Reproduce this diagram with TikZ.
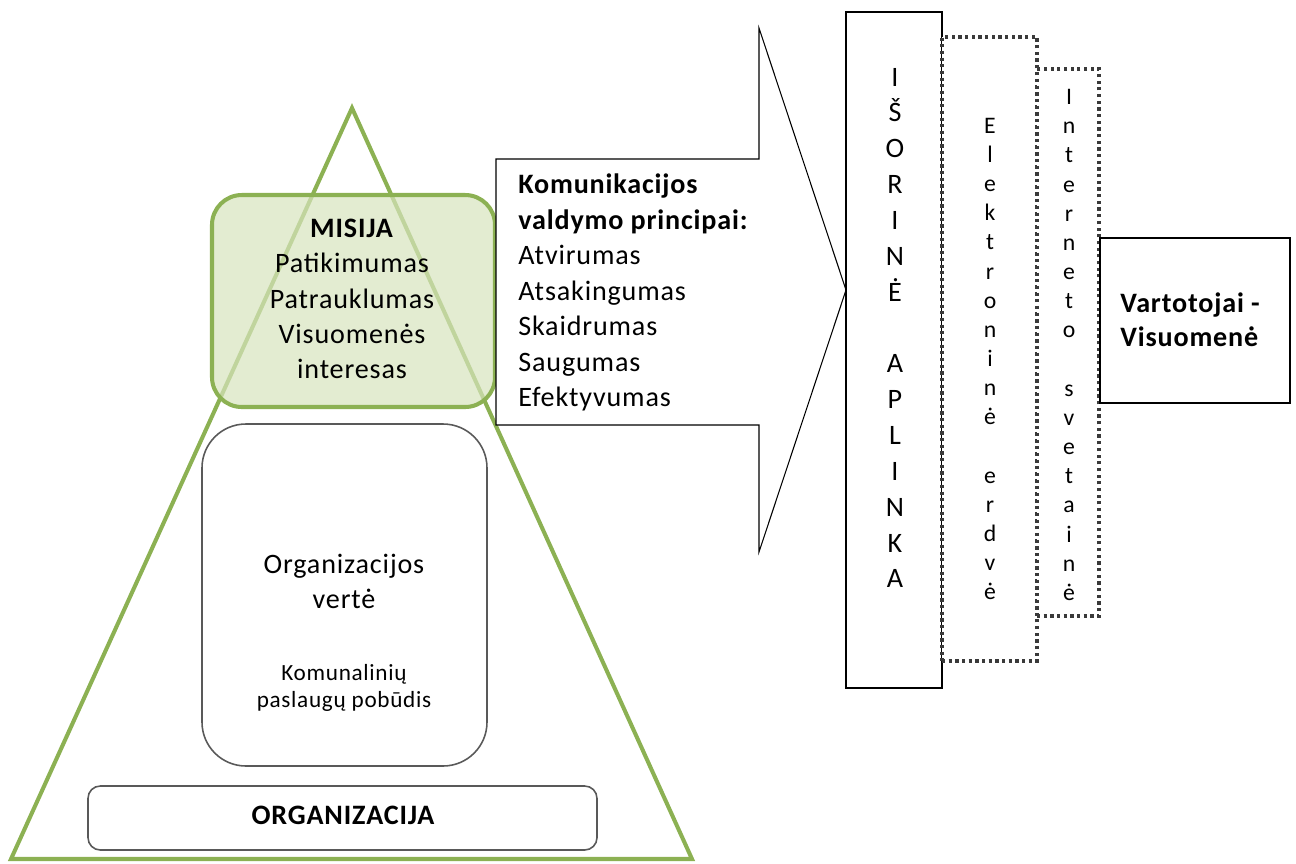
\documentclass[tikz,border=0pt]{standalone}
\usepackage{fontspec}
\setmainfont{Carlito}[LetterSpace=3]
\usepackage{tikz}
\usetikzlibrary{fit,positioning}
\definecolor{pyrgreen}{HTML}{8CB153}
\definecolor{misfill}{HTML}{D7E4BD}
\definecolor{edgegray}{HTML}{595959}
\definecolor{dotgray}{HTML}{3A3A3A}

\begin{document}
\begin{tikzpicture}[x=0.02cm, y=-0.02cm,
  pyramid/.style={draw=pyrgreen, line width=2.3pt, line join=miter},
  mission/.style={draw=pyrgreen, line width=2.3pt, rounded corners=17pt,
                  fill=misfill, fill opacity=0.7, inner sep=0pt},
  valuebox/.style={draw=edgegray, line width=0.9pt, rounded corners=25pt, inner sep=0pt},
  basebox/.style={draw=edgegray, line width=0.9pt, rounded corners=7pt, inner sep=0pt},
  envbox/.style={draw=black, line width=1pt, fill=white, inner sep=0pt},
  layerbox/.style={draw=dotgray, line width=1.8pt, dash pattern=on 1.8pt off 2pt,
                   fill=white, inner sep=0pt},
  arrowshape/.style={draw=black, line width=0.6pt, fill=white, line join=miter},
  txt/.style={font=\fontsize{16}{20}\selectfont, align=center, inner sep=0pt},
  smalltxt/.style={font=\fontsize{13.2}{15.1}\selectfont, align=center, inner sep=0pt},
  listtxt/.style={font=\fontsize{16}{20.2}\selectfont, align=left, inner sep=0pt},
  capletters/.style={font=\fontsize{16}{20.4}\selectfont, align=center, inner sep=0pt},
  lowletters/.style={font=\fontsize{13.5}{16.6}\selectfont, align=center, inner sep=0pt},
]
  \useasboundingbox (0,0) rectangle (1296,863);

  % pyramid and its three levels
  \draw[pyramid] (352,108) -- (692,859) -- (11,859) -- cycle;
  \node[mission, fit={(212,195) (495,407)}] (misija) {};
  \node[valuebox, fit={(202,424) (487,766)}] (verte) {};
  \node[basebox, fit={(88,786) (597,850)}] (organizacija) {};

  \node[txt] (misija-text) at (352,299)
    {\textbf{MISIJA}\\Patikimumas\\Patrauklumas\\Visuomenės\\interesas};
  \node[txt] (verte-text) at (344,581.5) {Organizacijos\\vertė};
  \node[smalltxt] (pobudis-text) at (344,688) {Komunalinių\\paslaugų pobūdis};
  \node[txt, font=\fontsize{16}{20}\selectfont\bfseries] (organizacija-text) at (343,815)
    {ORGANIZACIJA};

  % block arrow with the principles
  \draw[arrowshape] (496,159) -- (759,159) -- (759,28) -- (846,290)
    -- (759,552) -- (759,425) -- (496,425) -- cycle;
  \node[listtxt, anchor=north west] (principai) at (518,173.5)
    {\textbf{Komunikacijos}\\\textbf{valdymo principai:}\\Atvirumas\\Atsakingumas\\Skaidrumas\\Saugumas\\Efektyvumas};

  % external environment layers
  \node[envbox, fit={(846,12) (942,688)}] (aplinka) {};
  \node[layerbox, fit={(942,37) (1037,661)}] (erdve) {};
  \node[layerbox, fit={(1037,69) (1099,616)}] (svetaine) {};

  \node[capletters] (aplinka-text) at (895,328)
    {I\\Š\\O\\R\\I\\N\\Ė\\\mbox{}\\A\\P\\L\\I\\N\\K\\A};
  \node[lowletters] (erdve-text) at (990,359)
    {E\\l\\e\\k\\t\\r\\o\\n\\i\\n\\ė\\\mbox{}\\e\\r\\d\\v\\ė};
  \node[lowletters] (svetaine-text) at (1069,345)
    {I\\n\\t\\e\\r\\n\\e\\t\\o\\\mbox{}\\s\\v\\e\\t\\a\\i\\n\\ė};

  \node[envbox, fit={(1100,238) (1290,403)}] (vartotojai) {};
  \node[listtxt, font=\fontsize{16}{19.6}\selectfont\bfseries, anchor=west]
    (vartotojai-text) at (1120,319.5) {Vartotojai -\\Visuomenė};
\end{tikzpicture}
\end{document}
